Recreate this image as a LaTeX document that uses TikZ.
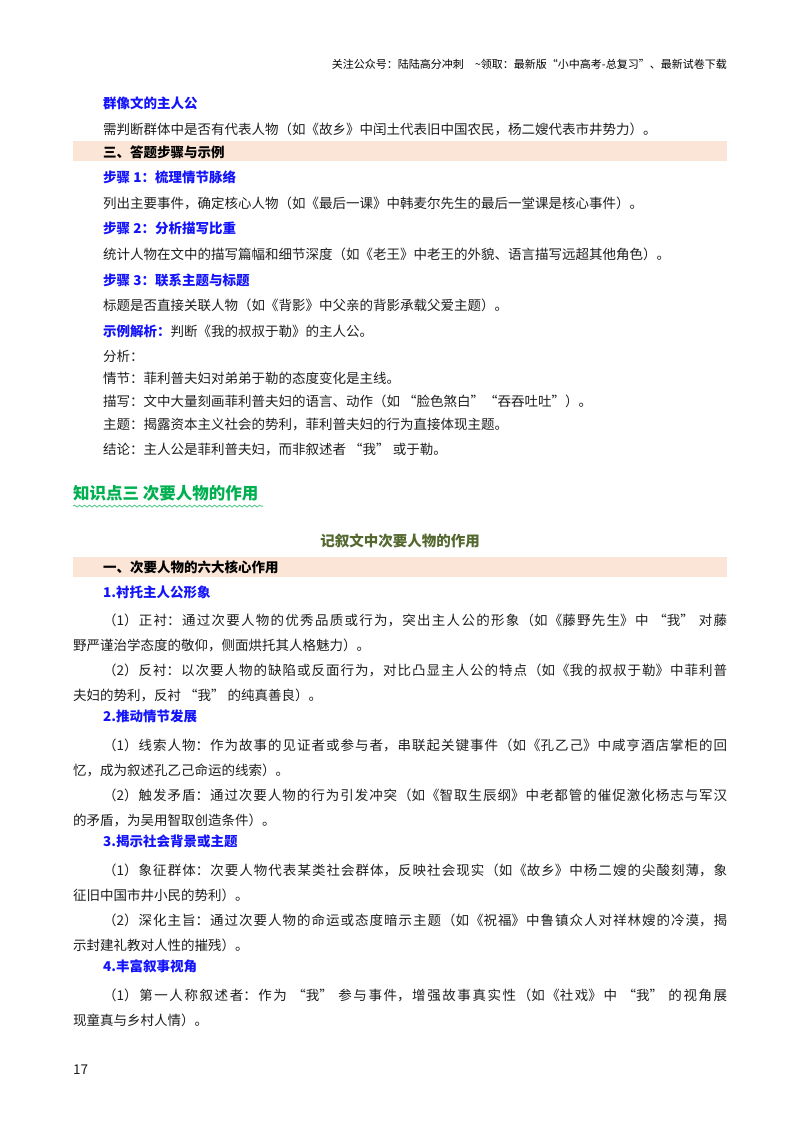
\documentclass[tikz,border=0pt]{standalone}
\usepackage{fontspec}
\setmainfont{Noto Sans CJK SC}
\usetikzlibrary{decorations.pathmorphing}
\XeTeXlinebreaklocale "zh"
\XeTeXlinebreakskip=0pt plus 1pt
\definecolor{tblue}{RGB}{20,20,250}
\definecolor{band}{RGB}{251,229,214}
\definecolor{tgreen}{RGB}{0,176,80}
\definecolor{olive}{RGB}{84,104,48}
\definecolor{ink}{RGB}{30,30,30}
\tikzset{
 t/.style={anchor=west,inner sep=0pt,font=\fontsize{13.5}{25}\selectfont,text=ink},
 h/.style={t,font=\fontsize{13.5}{25}\selectfont\bfseries,text=tblue},
 bandtxt/.style={t,font=\fontsize{13.5}{25}\selectfont\bfseries,text=black},
 para/.style={anchor=north west,inner sep=0pt,text width=654pt,align=justify,font=\fontsize{13.5}{25}\selectfont,text=ink},
}
\begin{document}
\begin{tikzpicture}[x=1pt,y=-1pt]
\useasboundingbox[fill=white] (0,0) rectangle (800,1132);
\node[anchor=east,inner sep=0pt,font=\fontsize{11}{13}\selectfont] (hd) at (727,64) {关注公众号：陆陆高分冲刺\quad \~{}领取：最新版“小中高考-总复习”、最新试卷下载};
\node[h] (a1) at (103,103) {群像文的主人公};
\node[t] (a2) at (103,129) {需判断群体中是否有代表人物（如《故乡》中闰土代表旧中国农民，杨二嫂代表市井势力）。};
\fill[band] (73,141) rectangle (727,161);
\node[bandtxt] (b0) at (103,152) {三、答题步骤与示例};
\node[h] (b1) at (103,177) {步骤 1：梳理情节脉络};
\node[t] (b2) at (103,203) {列出主要事件，确定核心人物（如《最后一课》中韩麦尔先生的最后一堂课是核心事件）。};
\node[h] (b3) at (103,228) {步骤 2：分析描写比重};
\node[t] (b4) at (103,254) {统计人物在文中的描写篇幅和细节深度（如《老王》中老王的外貌、语言描写远超其他角色）。};
\node[h] (b5) at (103,280) {步骤 3：联系主题与标题};
\node[t] (b6) at (103,305) {标题是否直接关联人物（如《背影》中父亲的背影承载父爱主题）。};
\node[t] (b7) at (103,331) {\textcolor{tblue}{\bfseries 示例解析：}判断《我的叔叔于勒》的主人公。};
\node[t] (b8) at (103,356) {分析：};
\node[t] (b9) at (103,378) {情节：菲利普夫妇对弟弟于勒的态度变化是主线。};
\node[t] (b10) at (103,401) {描写：文中大量刻画菲利普夫妇的语言、动作（如 “脸色煞白”“吞吞吐吐”）。};
\node[t] (b11) at (103,425) {主题：揭露资本主义社会的势利，菲利普夫妇的行为直接体现主题。};
\node[t] (b12) at (103,449) {结论：主人公是菲利普夫妇，而非叙述者 “我” 或于勒。};
\node[t,font=\fontsize{16.5}{20}\selectfont\bfseries,text=tgreen] (k) at (73,493) {知识点三\ 次要人物的作用};
\draw[tgreen!70,line width=0.8pt,decorate,decoration={snake,amplitude=1pt,segment length=5pt}] (k.south west)++(0,5) -- ++(190,0);
\node[anchor=center,inner sep=0pt,font=\fontsize{14.5}{18}\selectfont\bfseries,text=olive] (ttl) at (400,541) {记叙文中次要人物的作用};
\fill[band] (73,557) rectangle (727,577);
\node[bandtxt] (c0) at (103,567) {一、次要人物的六大核心作用};
\node[h] (c1) at (103,592) {1.衬托主人公形象};
\node[para] (p1) at (73,614) {\hspace*{30pt}（1）正衬：通过次要人物的优秀品质或行为，突出主人公的形象（如《藤野先生》中 “我” 对藤\linebreak 野严谨治学态度的敬仰，侧面烘托其人格魅力）。};
\node[para] (p2) at (73,664) {\hspace*{30pt}（2）反衬：以次要人物的缺陷或反面行为，对比凸显主人公的特点（如《我的叔叔于勒》中菲利普\linebreak 夫妇的势利，反衬 “我” 的纯真善良）。};
\node[h] (c2) at (103,716) {2.推动情节发展};
\node[para] (p3) at (73,739) {\hspace*{30pt}（1）线索人物：作为故事的见证者或参与者，串联起关键事件（如《孔乙己》中咸亨酒店掌柜的回\linebreak 忆，成为叙述孔乙己命运的线索）。};
\node[para] (p4) at (73,789) {\hspace*{30pt}（2）触发矛盾：通过次要人物的行为引发冲突（如《智取生辰纲》中老都管的催促激化杨志与军汉\linebreak 的矛盾，为吴用智取创造条件）。};
\node[h] (c3) at (103,841) {3.揭示社会背景或主题};
\node[para] (p5) at (73,864) {\hspace*{30pt}（1）象征群体：次要人物代表某类社会群体，反映社会现实（如《故乡》中杨二嫂的尖酸刻薄，象\linebreak 征旧中国市井小民的势利）。};
\node[para] (p6) at (73,914) {\hspace*{30pt}（2）深化主旨：通过次要人物的命运或态度暗示主题（如《祝福》中鲁镇众人对祥林嫂的冷漠，揭\linebreak 示封建礼教对人性的摧残）。};
\node[h] (c4) at (103,966) {4.丰富叙事视角};
\node[para] (p7) at (73,989) {\hspace*{30pt}（1）第一人称叙述者：作为 “我” 参与事件，增强故事真实性（如《社戏》中 “我” 的视角展\linebreak 现童真与乡村人情）。};
\node[t] (pg) at (73,1070) {17};
\end{tikzpicture}
\end{document}
